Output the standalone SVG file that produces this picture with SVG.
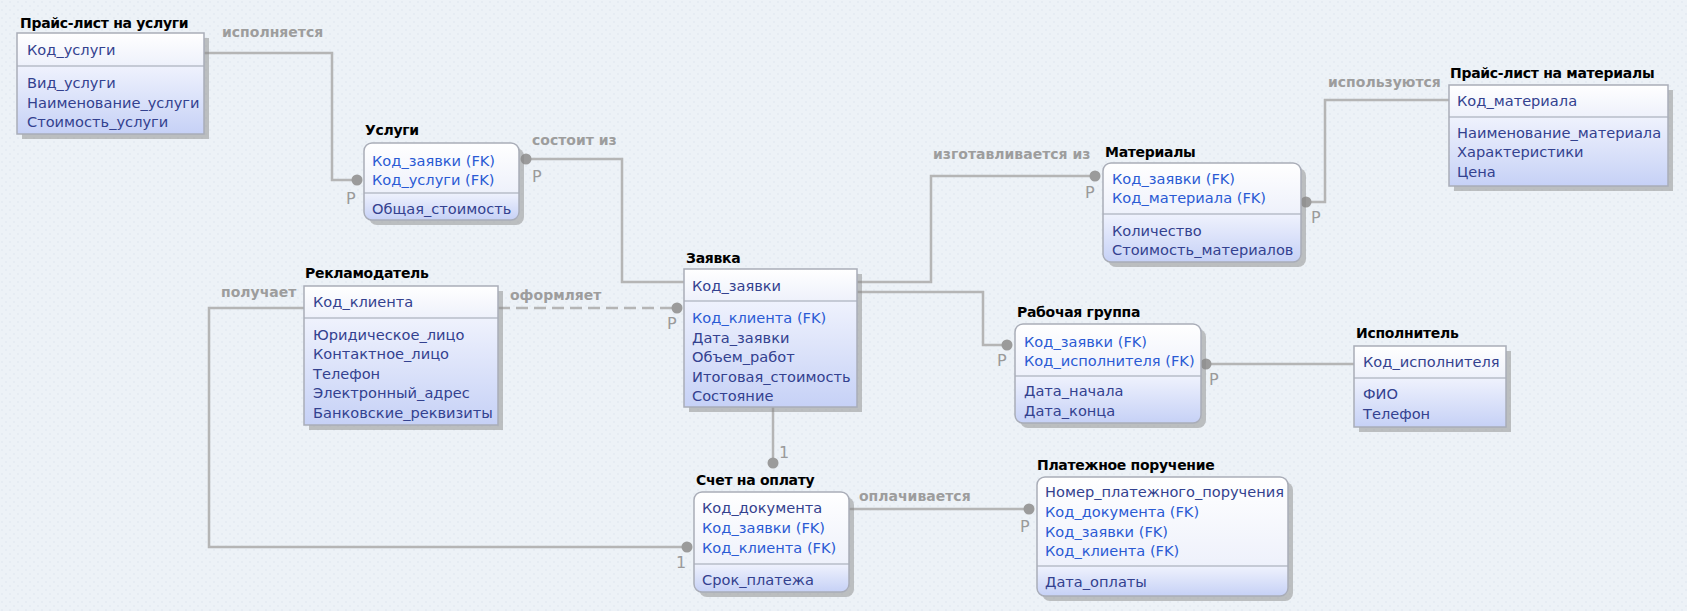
<svg xmlns="http://www.w3.org/2000/svg" width="1687" height="611" viewBox="0 0 1687 611">
<style>
.t{font-family:"DejaVu Sans","Noto Sans",sans-serif;font-size:14.6px;fill:#33418f}
.fk{fill:#2a5ad4}
.ttl{font-family:"DejaVu Sans","Noto Sans",sans-serif;font-weight:bold;font-size:14px;fill:#000;letter-spacing:-0.3px}
.lbl{font-family:"DejaVu Sans","Noto Sans",sans-serif;font-weight:bold;font-size:14px;fill:#9d9d9d}
.pl{font-family:"DejaVu Sans","Noto Sans",sans-serif;font-size:16px;fill:#9a9a9a}
.ln{stroke:#b5b5b5;stroke-width:2.5;fill:none}
.dash{stroke-dasharray:12 6}
.dot{fill:#9b9b9b}
.box{fill:none;stroke:#a9adb8;stroke-width:1.5}
.sh{fill:#8a8a8a;opacity:0.5}
.dv{stroke:#b7bcc9;stroke-width:1.5}
.kf{fill:url(#kg)}
.af{fill:url(#ag)}
</style>
<defs>
<linearGradient id="kg" x1="0" y1="0" x2="0" y2="1"><stop offset="0" stop-color="#ffffff"/><stop offset="1" stop-color="#eef1fb"/></linearGradient>
<linearGradient id="ag" x1="0" y1="0" x2="0" y2="1"><stop offset="0" stop-color="#eff2fd"/><stop offset="1" stop-color="#c6d1f6"/></linearGradient>
<pattern id="bgp" width="8" height="8" patternUnits="userSpaceOnUse"><rect width="8" height="8" fill="#edf2f7"/><circle cx="2" cy="2" r="0.7" fill="#dbe3ec"/><circle cx="6" cy="6" r="0.7" fill="#dbe3ec"/></pattern>
</defs>
<rect width="1687" height="611" fill="url(#bgp)"/>

<g id="connectors">
<path class="ln" d="M204,53 H332 V180 H357"/><circle class="dot" cx="357" cy="180" r="5.5"/>
<text class="lbl" x="222" y="37">исполняется</text><text class="pl" x="346" y="204">P</text>

<path class="ln" d="M526,159 H622 V282 H684"/><circle class="dot" cx="526" cy="159" r="5.5"/>
<text class="lbl" x="532" y="145">состоит из</text><text class="pl" x="532" y="182">P</text>

<path class="ln dash" d="M498,308 H677"/><circle class="dot" cx="677" cy="308" r="5.5"/>
<text class="lbl" x="510" y="300">оформляет</text><text class="pl" x="667" y="329">P</text>

<path class="ln" d="M857,282 H931 V176 H1095"/><circle class="dot" cx="1095" cy="176" r="5.5"/>
<text class="lbl" x="933" y="159">изготавливается из</text><text class="pl" x="1085" y="198">P</text>

<path class="ln" d="M1306,202 H1325 V100 H1449"/><circle class="dot" cx="1306" cy="202" r="5.5"/>
<text class="lbl" x="1328" y="87">используются</text><text class="pl" x="1311" y="223">P</text>

<path class="ln" d="M857,292 H983 V345 H1007"/><circle class="dot" cx="1007" cy="345" r="5.5"/>
<text class="pl" x="997" y="366">P</text>

<path class="ln" d="M1206,364 H1354"/><circle class="dot" cx="1206" cy="364" r="5.5"/>
<text class="pl" x="1209" y="385">P</text>

<path class="ln" d="M304,308 H209 V547 H687"/><circle class="dot" cx="687" cy="547" r="5.5"/>
<text class="lbl" x="221" y="297">получает</text><text class="pl" x="676" y="568">1</text>

<path class="ln" d="M773,407 V463"/><circle class="dot" cx="773" cy="463" r="5.5"/>
<text class="pl" x="779" y="458">1</text>

<path class="ln" d="M849,509 H1029"/><circle class="dot" cx="1029" cy="509" r="5.5"/>
<text class="lbl" x="859" y="501">оплачивается</text><text class="pl" x="1020" y="532">P</text>
</g>

<g id="price_services">
<rect class="sh" x="22" y="38" width="187" height="101"/>
<rect class="kf" x="17" y="33" width="187" height="33"/>
<rect class="af" x="17" y="66" width="187" height="68"/>
<line class="dv" x1="17" y1="66" x2="204" y2="66"/>
<rect class="box" x="17" y="33" width="187" height="101"/>
<text class="ttl" x="20" y="28">Прайс-лист на услуги</text>
<text class="t" x="27" y="55">Код_услуги</text>
<text class="t" x="27" y="88">Вид_услуги</text>
<text class="t" x="27" y="108">Наименование_услуги</text>
<text class="t" x="27" y="127">Стоимость_услуги</text>
</g>

<g id="services">
<rect class="sh" x="369" y="148" width="155" height="77" rx="8"/>
<path class="kf" d="M364,193 V151 Q364,143 372,143 H511 Q519,143 519,151 V193 Z"/>
<path class="af" d="M364,193 H519 V212 Q519,220 511,220 H372 Q364,220 364,212 Z"/>
<line class="dv" x1="364" y1="193" x2="519" y2="193"/>
<rect class="box" x="364" y="143" width="155" height="77" rx="8"/>
<text class="ttl" x="365" y="135">Услуги</text>
<text class="t fk" x="372" y="166">Код_заявки (FK)</text>
<text class="t fk" x="372" y="185">Код_услуги (FK)</text>
<text class="t" x="372" y="214">Общая_стоимость</text>
</g>

<g id="order">
<rect class="sh" x="689" y="274" width="173" height="138"/>
<rect class="kf" x="684" y="269" width="173" height="32"/>
<rect class="af" x="684" y="301" width="173" height="106"/>
<line class="dv" x1="684" y1="301" x2="857" y2="301"/>
<rect class="box" x="684" y="269" width="173" height="138"/>
<text class="ttl" x="686" y="263">Заявка</text>
<text class="t" x="692" y="291">Код_заявки</text>
<text class="t fk" x="692" y="323">Код_клиента (FK)</text>
<text class="t" x="692" y="343">Дата_заявки</text>
<text class="t" x="692" y="362">Объем_работ</text>
<text class="t" x="692" y="382">Итоговая_стоимость</text>
<text class="t" x="692" y="401">Состояние</text>
</g>

<g id="advertiser">
<rect class="sh" x="309" y="291" width="194" height="139"/>
<rect class="kf" x="304" y="286" width="194" height="32"/>
<rect class="af" x="304" y="318" width="194" height="107"/>
<line class="dv" x1="304" y1="318" x2="498" y2="318"/>
<rect class="box" x="304" y="286" width="194" height="139"/>
<text class="ttl" x="305" y="278">Рекламодатель</text>
<text class="t" x="313" y="307">Код_клиента</text>
<text class="t" x="313" y="340">Юридическое_лицо</text>
<text class="t" x="313" y="359">Контактное_лицо</text>
<text class="t" x="313" y="379">Телефон</text>
<text class="t" x="313" y="398">Электронный_адрес</text>
<text class="t" x="313" y="418">Банковские_реквизиты</text>
</g>

<g id="materials">
<rect class="sh" x="1108" y="168" width="198" height="99" rx="8"/>
<path class="kf" d="M1103,214 V171 Q1103,163 1111,163 H1293 Q1301,163 1301,171 V214 Z"/>
<path class="af" d="M1103,214 H1301 V254 Q1301,262 1293,262 H1111 Q1103,262 1103,254 Z"/>
<line class="dv" x1="1103" y1="214" x2="1301" y2="214"/>
<rect class="box" x="1103" y="163" width="198" height="99" rx="8"/>
<text class="ttl" x="1105" y="157">Материалы</text>
<text class="t fk" x="1112" y="184">Код_заявки (FK)</text>
<text class="t fk" x="1112" y="203">Код_материала (FK)</text>
<text class="t" x="1112" y="236">Количество</text>
<text class="t" x="1112" y="255">Стоимость_материалов</text>
</g>

<g id="price_materials">
<rect class="sh" x="1454" y="90" width="219" height="101"/>
<rect class="kf" x="1449" y="85" width="219" height="32"/>
<rect class="af" x="1449" y="117" width="219" height="69"/>
<line class="dv" x1="1449" y1="117" x2="1668" y2="117"/>
<rect class="box" x="1449" y="85" width="219" height="101"/>
<text class="ttl" x="1450" y="78">Прайс-лист на материалы</text>
<text class="t" x="1457" y="106">Код_материала</text>
<text class="t" x="1457" y="138">Наименование_материала</text>
<text class="t" x="1457" y="157">Характеристики</text>
<text class="t" x="1457" y="177">Цена</text>
</g>

<g id="workgroup">
<rect class="sh" x="1020" y="329" width="186" height="99" rx="8"/>
<path class="kf" d="M1015,376 V332 Q1015,324 1023,324 H1193 Q1201,324 1201,332 V376 Z"/>
<path class="af" d="M1015,376 H1201 V415 Q1201,423 1193,423 H1023 Q1015,423 1015,415 Z"/>
<line class="dv" x1="1015" y1="376" x2="1201" y2="376"/>
<rect class="box" x="1015" y="324" width="186" height="99" rx="8"/>
<text class="ttl" x="1017" y="317">Рабочая группа</text>
<text class="t fk" x="1024" y="347">Код_заявки (FK)</text>
<text class="t fk" x="1024" y="366">Код_исполнителя (FK)</text>
<text class="t" x="1024" y="396">Дата_начала</text>
<text class="t" x="1024" y="416">Дата_конца</text>
</g>

<g id="executor">
<rect class="sh" x="1359" y="351" width="152" height="81"/>
<rect class="kf" x="1354" y="346" width="152" height="32"/>
<rect class="af" x="1354" y="378" width="152" height="49"/>
<line class="dv" x1="1354" y1="378" x2="1506" y2="378"/>
<rect class="box" x="1354" y="346" width="152" height="81"/>
<text class="ttl" x="1356" y="338">Исполнитель</text>
<text class="t" x="1363" y="367">Код_исполнителя</text>
<text class="t" x="1363" y="399">ФИО</text>
<text class="t" x="1363" y="419">Телефон</text>
</g>

<g id="invoice">
<rect class="sh" x="699" y="497" width="155" height="100" rx="8"/>
<path class="kf" d="M694,564 V500 Q694,492 702,492 H841 Q849,492 849,500 V564 Z"/>
<path class="af" d="M694,564 H849 V584 Q849,592 841,592 H702 Q694,592 694,584 Z"/>
<line class="dv" x1="694" y1="564" x2="849" y2="564"/>
<rect class="box" x="694" y="492" width="155" height="100" rx="8"/>
<text class="ttl" x="696" y="485">Счет на оплату</text>
<text class="t" x="702" y="513">Код_документа</text>
<text class="t fk" x="702" y="533">Код_заявки (FK)</text>
<text class="t fk" x="702" y="553">Код_клиента (FK)</text>
<text class="t" x="702" y="585">Срок_платежа</text>
</g>

<g id="payment">
<rect class="sh" x="1042" y="482" width="251" height="119" rx="8"/>
<path class="kf" d="M1037,566 V485 Q1037,477 1045,477 H1280 Q1288,477 1288,485 V566 Z"/>
<path class="af" d="M1037,566 H1288 V588 Q1288,596 1280,596 H1045 Q1037,596 1037,588 Z"/>
<line class="dv" x1="1037" y1="566" x2="1288" y2="566"/>
<rect class="box" x="1037" y="477" width="251" height="119" rx="8"/>
<text class="ttl" x="1037" y="470">Платежное поручение</text>
<text class="t" x="1045" y="497">Номер_платежного_поручения</text>
<text class="t fk" x="1045" y="517">Код_документа (FK)</text>
<text class="t fk" x="1045" y="537">Код_заявки (FK)</text>
<text class="t fk" x="1045" y="556">Код_клиента (FK)</text>
<text class="t" x="1045" y="587">Дата_оплаты</text>
</g>
</svg>
